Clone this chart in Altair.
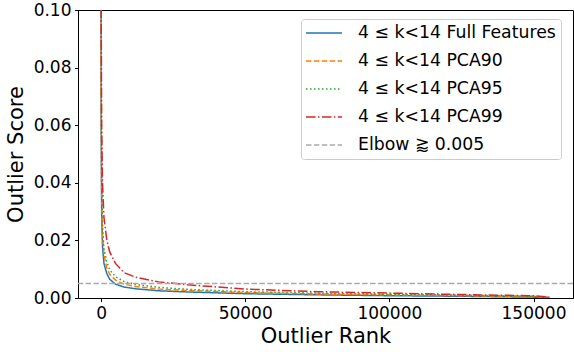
import altair as alt
import pandas as pd

series_names = [
    "4 ≤ k<14 Full Features",
    "4 ≤ k<14 PCA90",
    "4 ≤ k<14 PCA95",
    "4 ≤ k<14 PCA99",
]
elbow_name = "Elbow ⪆ 0.005"
elbow_value = 0.005

ranks = [1, 50, 200, 500, 1000, 2000, 3000, 5000, 8000, 12000, 20000, 30000,
         50000, 75000, 100000, 125000, 150000, 155500]
full_features = [0.15, 0.06, 0.03, 0.018, 0.012, 0.0085, 0.0065, 0.0048, 0.0038, 0.0032,
                 0.0025, 0.0021, 0.0015, 0.0011, 0.0008, 0.0006, 0.0003, 0.0001]
pca90 = [0.16, 0.07, 0.036, 0.022, 0.015, 0.0105, 0.0082, 0.0062, 0.0048, 0.0040,
         0.0031, 0.0026, 0.0019, 0.0014, 0.0011, 0.0008, 0.0005, 0.0002]
pca95 = [0.17, 0.08, 0.04, 0.025, 0.017, 0.0125, 0.0098, 0.0074, 0.0057, 0.0047,
         0.0037, 0.0030, 0.0022, 0.0017, 0.0013, 0.0010, 0.0006, 0.0002]
pca99 = [0.2, 0.1, 0.06, 0.04, 0.028, 0.02, 0.016, 0.012, 0.0088, 0.0072,
         0.0056, 0.0046, 0.0031, 0.0022, 0.0017, 0.0012, 0.0008, 0.0003]

rows = []
for name, vals in zip(series_names, [full_features, pca90, pca95, pca99]):
    for i, (r, v) in enumerate(zip(ranks, vals)):
        rows.append({"series": name, "rank": r, "score": v, "order": i})
df = pd.DataFrame(rows)
df_elbow = pd.DataFrame([{"series": elbow_name, "score": elbow_value}])

domain = series_names + [elbow_name]
colors = ["#1f77b4", "#ff7f0e", "#2ca02c", "#d62728", "#aaaaaa"]
dashes = [[1, 0], [5.5, 2.4], [1.5, 2.5], [9.6, 2.4, 1.5, 2.4], [5.5, 2.4]]

color = alt.Color("series:N", scale=alt.Scale(domain=domain, range=colors),
                  legend=alt.Legend(title=None))
dash = alt.StrokeDash("series:N", scale=alt.Scale(domain=domain, range=dashes),
                      legend=alt.Legend(title=None))

x_enc = alt.X("rank:Q", title="Outlier Rank",
              scale=alt.Scale(domain=[-8000, 163700], nice=False, zero=False),
              axis=alt.Axis(values=[0, 50000, 100000, 150000], format="d"))
y_enc = alt.Y("score:Q", title="Outlier Score",
              scale=alt.Scale(domain=[0, 0.1], nice=False),
              axis=alt.Axis(values=[0, 0.02, 0.04, 0.06, 0.08, 0.1], format=".2f"))

lines = alt.Chart(df).mark_line(strokeWidth=1.5, clip=True).encode(
    x=x_enc, y=y_enc, color=color, strokeDash=dash, order="order:Q"
)
rule = alt.Chart(df_elbow).mark_rule(strokeWidth=1.5).encode(
    y="score:Q", color=color, strokeDash=dash
)

chart = alt.layer(lines, rule).properties(
    width=495, height=288,
    autosize=alt.AutoSizeParams(type="none"),
    padding={"left": 78, "top": 10, "right": 1, "bottom": 54},
).configure_view(
    stroke="black", strokeWidth=1
).configure_axis(
    domainColor="black", tickColor="black", tickSize=3.5, grid=False,
    labelFont="DejaVu Sans", labelFontSize=17, labelColor="black",
    titleFont="DejaVu Sans", titleFontSize=21, titleFontWeight="normal", titleColor="black",
).configure_axisX(titlePadding=4, labelPadding=3.5
).configure_axisY(titlePadding=7, labelPadding=3.5
).configure_legend(
    orient="none", legendX=223, legendY=9,
    symbolType="M-1.125,0H3.375", symbolSize=256, symbolStrokeWidth=1.5,
    labelFont="DejaVu Sans", labelFontSize=17.3, labelColor="black",
    strokeColor="#ccc", fillColor="white", cornerRadius=3, padding=5,
    rowPadding=10, labelOffset=34, labelLimit=320,
)

chart.save("out.html", embed_options={"renderer": "svg", "actions": False})
